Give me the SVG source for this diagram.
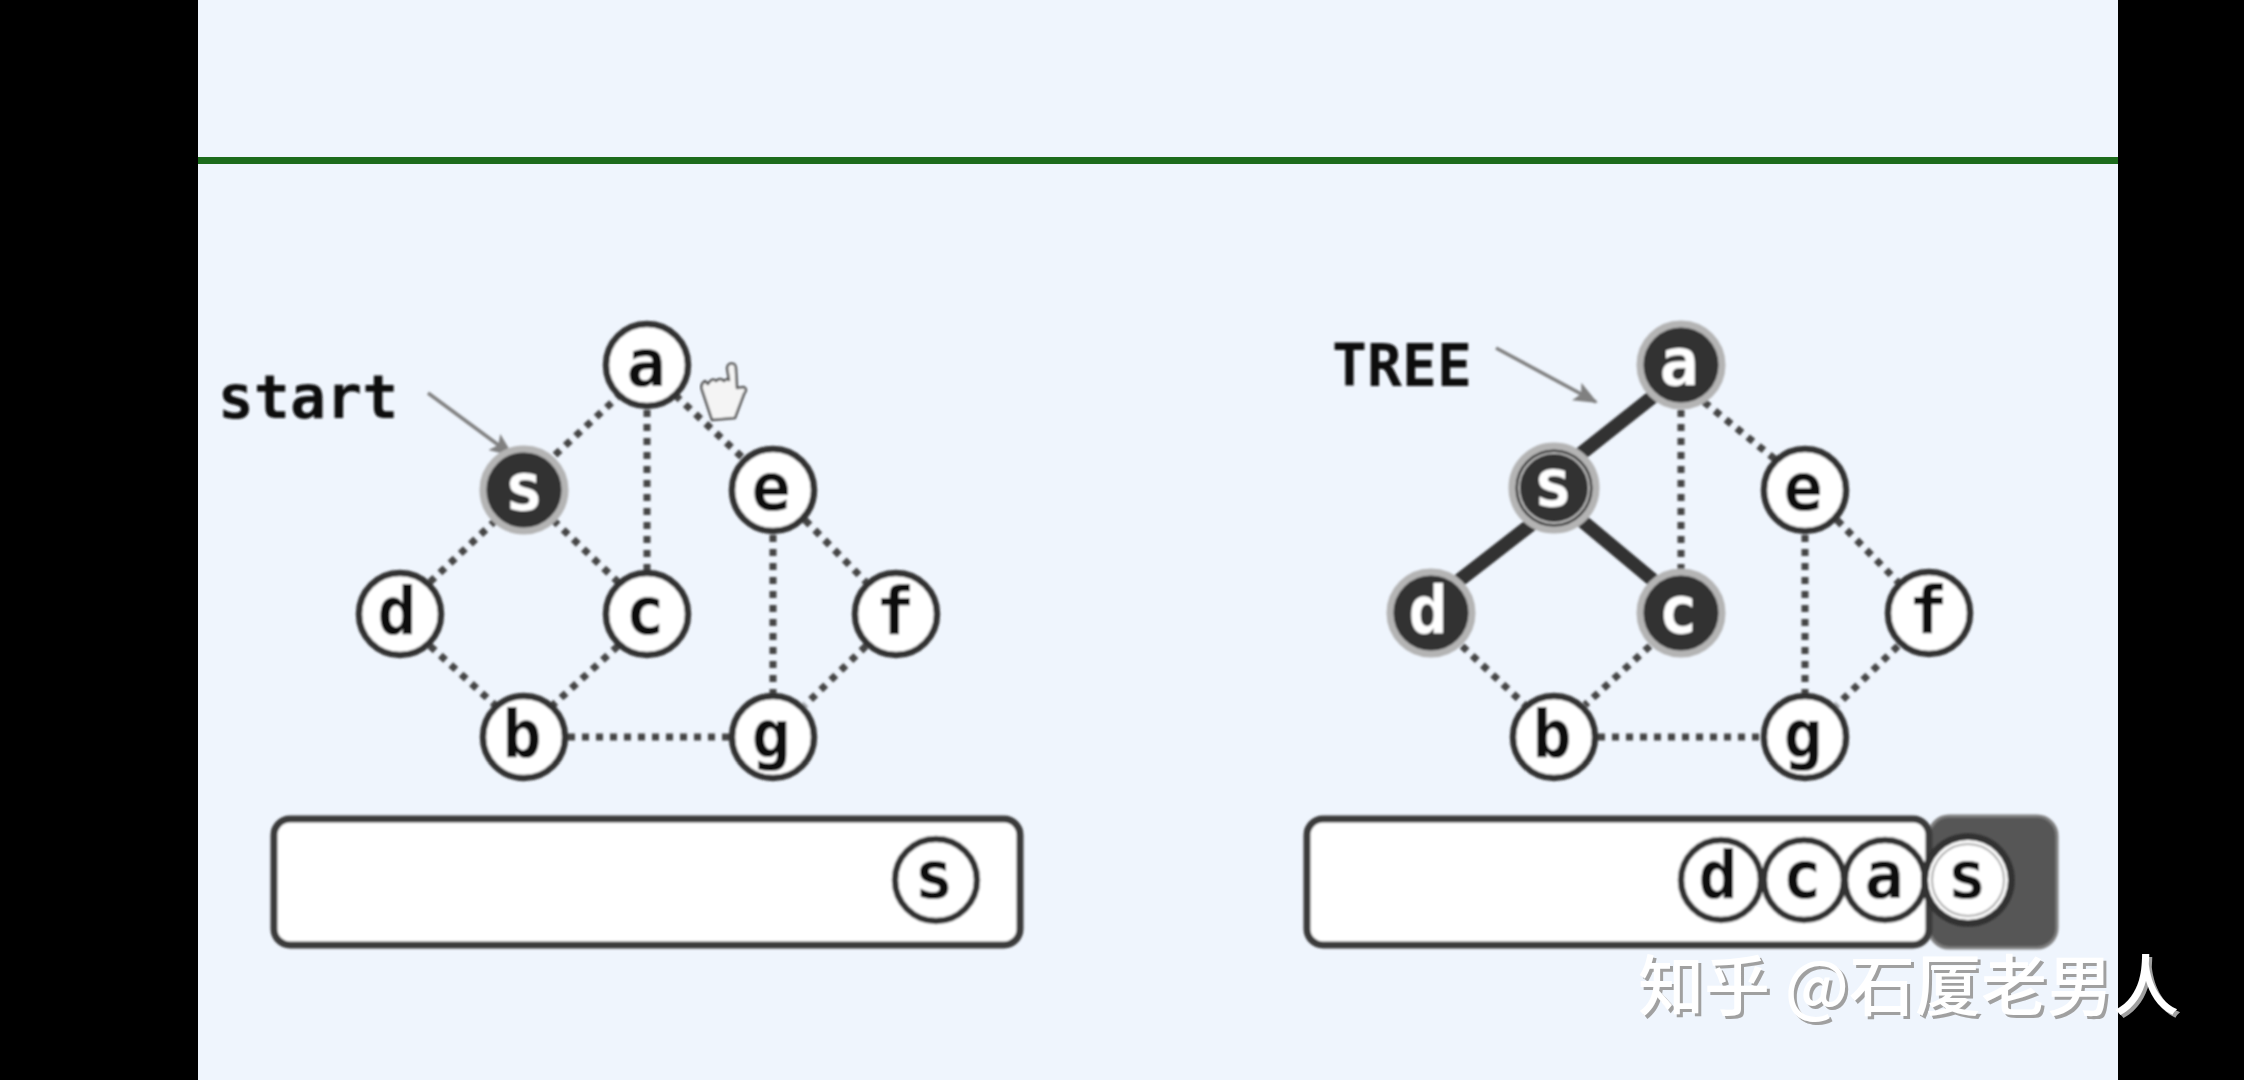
<svg xmlns="http://www.w3.org/2000/svg" width="2244" height="1080" viewBox="0 0 2244 1080">
<style>
.lbl{font-family:"DejaVu Sans Mono","Liberation Mono",monospace;font-weight:700;text-anchor:middle}
.nl{font-size:65px;fill:#0a0a0a}
.nd{font-size:65px;fill:#fff}
.w{fill:#fff;stroke:#333;stroke-width:6.5}
.dk{fill:#333;stroke:#b4b4b4;stroke-width:7}
.dot{stroke:#444;stroke-width:7;stroke-dasharray:7 7;fill:none}
.tree{stroke:#333;stroke-width:14;fill:none}
.arr{stroke:#808080;stroke-width:3.5;fill:none}
.box{fill:#fff;stroke:#3a3a3a;stroke-width:7}
.wm{font-family:"Noto Sans CJK SC","Noto Sans",sans-serif;font-size:66px;font-weight:500}
</style>
<defs>
<marker id="ah" markerUnits="userSpaceOnUse" markerWidth="24" markerHeight="20" refX="22" refY="10" orient="auto"><path d="M0 0L24 10L0 20L5 10Z" fill="#808080"/></marker>
<filter id="soft" x="-5%" y="-5%" width="110%" height="110%"><feGaussianBlur stdDeviation="1"/></filter>
</defs>
<rect width="2244" height="1080" fill="#eff5fd"/>
<rect x="198" y="157" width="1920" height="7" fill="#1c6b1c"/>
<g filter="url(#soft)">
<g id="connectors">
<path class="dot" d="M555 455L620 395M675 395L745 460M647 410V572M496 520L430 582M553 520L618 582M430 646L495 705M618 646L553 705M773 535V695M805 520L866 582M866 646L805 705M568 737H730"/>
<path class="dot" d="M1704 402L1776 460M1681 410V572M1805 535V695M1837 520L1898 582M1898 646L1837 705M1462 646L1525 705M1650 646L1585 705M1598 737H1762"/>
<path class="tree" d="M1660 391L1578 456M1537 520L1452 586M1581 520L1660 586"/>
<path class="arr" marker-end="url(#ah)" d="M428 393L512 455"/>
<path class="arr" marker-end="url(#ah)" d="M1496 348L1596 402"/>
</g>
<text class="lbl" x="308" y="418" font-size="60" fill="#111">start</text>
<text class="lbl" x="1402" y="386" font-size="58" fill="#111" textLength="140">TREE</text>
<g id="L-a"><circle class="w" cx="647" cy="365" r="41"/><text class="lbl nl" x="646" y="386">a</text></g>
<g id="L-s"><circle class="dk" cx="524" cy="490" r="41"/><text class="lbl nd" x="524" y="510">s</text></g>
<g id="L-e"><circle class="w" cx="773" cy="490" r="41"/><text class="lbl nl" x="771" y="510">e</text></g>
<g id="L-d"><circle class="w" cx="400" cy="614" r="41"/><text class="lbl nl" x="397" y="634">d</text></g>
<g id="L-c"><circle class="w" cx="647" cy="614" r="41"/><text class="lbl nl" x="645" y="634">c</text></g>
<g id="L-f"><circle class="w" cx="896" cy="614" r="41"/><text class="lbl nl" x="895" y="634">f</text></g>
<g id="L-b"><circle class="w" cx="524" cy="737" r="41"/><text class="lbl nl" x="522" y="757">b</text></g>
<g id="L-g"><circle class="w" cx="773" cy="737" r="41"/><text class="lbl nl" x="771" y="757">g</text></g>
<g id="L-queue"><rect class="box" x="274" y="819" width="746" height="126" rx="16"/><circle class="w" cx="936" cy="880" r="41"/><text class="lbl nl" x="934" y="898">s</text></g>
<g id="R-a"><circle class="dk" cx="1681" cy="365" r="41"/><text class="lbl nd" x="1679" y="385">a</text></g>
<g id="R-s"><circle class="dk" cx="1554" cy="488" r="42"/><circle cx="1554" cy="488" r="35" fill="none" stroke="#bbb" stroke-width="2"/><text class="lbl nd" x="1553" y="506">s</text></g>
<g id="R-e"><circle class="w" cx="1805" cy="490" r="41"/><text class="lbl nl" x="1803" y="510">e</text></g>
<g id="R-d"><circle class="dk" cx="1431" cy="613" r="41"/><text class="lbl nd" x="1428" y="633">d</text></g>
<g id="R-c"><circle class="dk" cx="1681" cy="613" r="41"/><text class="lbl nd" x="1678" y="633">c</text></g>
<g id="R-f"><circle class="w" cx="1929" cy="613" r="41"/><text class="lbl nl" x="1928" y="633">f</text></g>
<g id="R-b"><circle class="w" cx="1554" cy="737" r="41"/><text class="lbl nl" x="1552" y="757">b</text></g>
<g id="R-g"><circle class="w" cx="1805" cy="737" r="41"/><text class="lbl nl" x="1803" y="757">g</text></g>
<g id="R-queue">
<rect x="1929" y="816" width="128" height="132" rx="20" fill="#565656" stroke="#808080" stroke-width="3"/>
<rect class="box" x="1307" y="819" width="622" height="126" rx="16"/>
<circle class="w" cx="1721" cy="880" r="40"/><text class="lbl nl" x="1718" y="898">d</text>
<circle class="w" cx="1804" cy="880" r="40"/><text class="lbl nl" x="1802" y="898">c</text>
<circle class="w" cx="1885" cy="880" r="40"/><text class="lbl nl" x="1884" y="898">a</text>
<circle cx="1968" cy="880" r="47" fill="#333"/><circle cx="1968" cy="880" r="40" fill="#fff"/><circle cx="1968" cy="880" r="36" fill="none" stroke="#aaa" stroke-width="2"/><text class="lbl nl" x="1967" y="898">s</text>
</g>
</g>
<g id="cursor" filter="url(#soft)"><path d="M712 420L702 390Q700 384 705 381L708 384Q712 377 716 381Q720 377 724 381Q727 378 729 380L727 368Q728 362 734 364Q736 365 736 370L737 388L744 387Q748 389 744 394L735 418Z" fill="#f4f4f4" stroke="#555" stroke-width="2.5" stroke-linejoin="round"/></g>
<rect x="0" y="0" width="198" height="1080" fill="#000"/>
<rect x="2118" y="0" width="126" height="1080" fill="#000"/>
<g id="watermark">
<text class="wm" x="1641" y="1013" fill="#a0a0a0">知乎 @石厦老男人</text>
<text class="wm" x="1638" y="1010" fill="#fff">知乎 @石厦老男人</text>
</g>
</svg>
